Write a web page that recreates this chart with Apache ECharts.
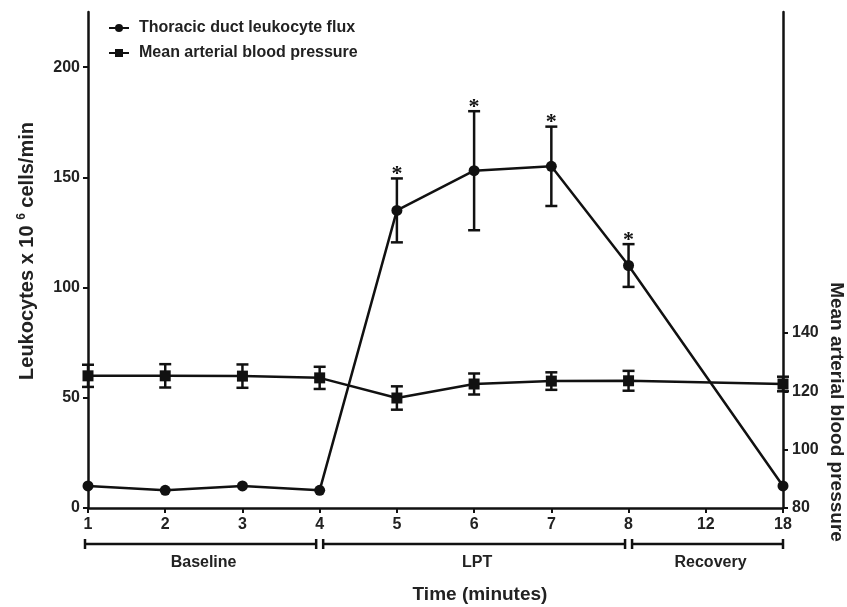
<!DOCTYPE html>
<html><head><meta charset="utf-8">
<script src="https://cdn.jsdelivr.net/npm/echarts@6/dist/echarts.min.js"></script>
<style>html,body{margin:0;padding:0;background:#fff}#c{width:847px;height:607px}</style>
</head><body><div id="c"></div>
<script>
// ---- data ----
const categories = ['1', '2', '3', '4', '5', '6', '7', '8', '12', '18'];
const leukocytes = [10, 8, 10, 8, 135, 153, 155, 110, null, 10];
const leukocyteErr = [0, 0, 0, 0, 14.5, 27, 18, 9.7, null, 0];
const significant = [0, 0, 0, 0, 1, 1, 1, 1, 0, 0];
const pressure = [125.3, 125.3, 125.2, 124.6, 117.7, 122.5, 123.5, 123.6, null, 122.5];
const pressureErr = [3.8, 4, 4, 3.8, 4, 3.6, 3, 3.4, null, 2.5];
const leftTicks = [0, 50, 100, 150, 200];
const rightTicks = [80, 100, 120, 140];
const phaseNames = ['Baseline', 'LPT', 'Recovery'];
const phaseStart = [0, 3, 7];
const phaseEnd = [3, 7, 9];

const FONT = '"Liberation Sans", Arial, Helvetica, sans-serif';
const INK = '#111';

function errorData(vals, errs, sig) {
  const out = [];
  vals.forEach((v, i) => {
    if (v != null && errs[i]) out.push([i, v, errs[i], sig ? sig[i] : 0]);
  });
  return out;
}
function errorRender(params, api) {
  const i = api.value(0), v = api.value(1), e = api.value(2), s = api.value(3);
  const t = api.coord([i, v + e]), b = api.coord([i, v - e]);
  const hw = 6;
  const st = { stroke: INK, lineWidth: 2.5 };
  const ch = [
    { type: 'line', shape: { x1: t[0], y1: t[1], x2: b[0], y2: b[1] }, style: st },
    { type: 'line', shape: { x1: t[0] - hw, y1: t[1], x2: t[0] + hw, y2: t[1] }, style: st },
    { type: 'line', shape: { x1: b[0] - hw, y1: b[1], x2: b[0] + hw, y2: b[1] }, style: st }
  ];
  if (s) ch.push({ type: 'text', style: { text: '*', x: t[0], y: t[1] + 7, align: 'center', verticalAlign: 'bottom', font: 'bold 22px "Liberation Serif", serif', fill: INK } });
  return { type: 'group', children: ch };
}

const chart = echarts.init(document.getElementById('c'));
chart.setOption({
  animation: false,
  backgroundColor: '#fff',
  grid: { left: 88, right: 64, top: 12, bottom: 99, containLabel: false },
  legend: {
    orient: 'vertical', left: 103, top: 15, itemGap: 9, itemWidth: 20, itemHeight: 10,
    textStyle: { fontFamily: FONT, fontSize: 16, fontWeight: 'bold', color: '#222', padding: [0, 0, 0, 5] },
    data: ['Thoracic duct leukocyte flux', 'Mean arterial blood pressure']
  },
  xAxis: {
    type: 'category', data: categories, boundaryGap: false,
    axisLine: { lineStyle: { color: INK, width: 2.5 } },
    axisTick: { alignWithLabel: true, length: 5, lineStyle: { color: INK, width: 2 } },
    axisLabel: { margin: 9, fontFamily: FONT, fontSize: 16, fontWeight: 'bold', color: '#222' },
    splitLine: { show: false }
  },
  yAxis: [
    {
      type: 'value', min: 0, max: 225, position: 'left',
      name: 'Leukocytes x 10 {sup|6} cells/min', nameLocation: 'middle', nameGap: 50, nameRotate: 90,
      nameTextStyle: { fontFamily: FONT, fontSize: 20, fontWeight: 'bold', color: '#222', padding: [0, 0, 0, 18],
        rich: { sup: { fontFamily: FONT, fontSize: 12, fontWeight: 'bold', color: '#222', verticalAlign: 'top', padding: [0, 0, 10, 0] } } },
      axisLine: { show: true, lineStyle: { color: INK, width: 2.5 } },
      axisTick: { show: true, length: 5, customValues: leftTicks, lineStyle: { color: INK, width: 2 } },
      axisLabel: { margin: 8, customValues: leftTicks, fontFamily: FONT, fontSize: 16, fontWeight: 'bold', color: '#222' },
      splitLine: { show: false }
    },
    {
      type: 'value', min: 80, max: 250, position: 'right',
      axisLine: { show: true, lineStyle: { color: INK, width: 2.5 } },
      axisTick: { show: true, length: 5, customValues: rightTicks, lineStyle: { color: INK, width: 2 } },
      axisLabel: { margin: 9, customValues: rightTicks, fontFamily: FONT, fontSize: 16, fontWeight: 'bold', color: '#222' },
      splitLine: { show: false }
    }
  ],
  series: [
    {
      name: 'Thoracic duct leukocyte flux', type: 'line', yAxisIndex: 0, data: leukocytes,
      connectNulls: true, clip: false, symbol: 'circle', symbolSize: 11, z: 3,
      lineStyle: { color: INK, width: 2.5 }, itemStyle: { color: INK }
    },
    {
      name: 'Mean arterial blood pressure', type: 'line', yAxisIndex: 1, data: pressure,
      connectNulls: true, clip: false, symbol: 'rect', symbolSize: 11, z: 3,
      lineStyle: { color: INK, width: 2.5 }, itemStyle: { color: INK }
    },
    {
      type: 'custom', yAxisIndex: 0, renderItem: errorRender, clip: false, z: 2,
      encode: { x: 0, y: 1 }, data: errorData(leukocytes, leukocyteErr, significant), silent: true
    },
    {
      type: 'custom', yAxisIndex: 1, renderItem: errorRender, clip: false, z: 2,
      encode: { x: 0, y: 1 }, data: errorData(pressure, pressureErr, null), silent: true
    }
  ]
});

// phase brackets below the x axis, positioned from the axis scale
const px = i => chart.convertToPixel({ xAxisIndex: 0 }, i);
const bracketY = 544, capH = 5, breakGap = 3.5;
const g = [];
phaseNames.forEach((nm, k) => {
  const a = px(phaseStart[k]) + (k > 0 ? breakGap : -3);
  const b = px(phaseEnd[k]) - (k < phaseNames.length - 1 ? breakGap : 0);
  const st = { stroke: INK, lineWidth: 2.5 };
  g.push({ type: 'line', shape: { x1: a, y1: bracketY, x2: b, y2: bracketY }, style: st });
  g.push({ type: 'line', shape: { x1: a, y1: bracketY - capH, x2: a, y2: bracketY + capH }, style: st });
  g.push({ type: 'line', shape: { x1: b, y1: bracketY - capH, x2: b, y2: bracketY + capH }, style: st });
  g.push({ type: 'text', style: { text: nm, x: (a + b) / 2 + 3, y: 563, align: 'center', verticalAlign: 'middle',
    font: 'bold 16px ' + FONT, fill: '#222' } });
});
g.push({ type: 'text', style: { text: 'Time (minutes)', x: 480, y: 595, align: 'center', verticalAlign: 'middle',
  font: 'bold 19px ' + FONT, fill: '#222' } });
g.push({ type: 'text', rotation: -Math.PI / 2, x: 836, y: 412,
  style: { text: 'Mean arterial blood pressure', x: 0, y: 0, align: 'center', verticalAlign: 'middle',
    font: 'bold 19px ' + FONT, fill: '#222' } });
chart.setOption({ graphic: g });
</script>
</body></html>
